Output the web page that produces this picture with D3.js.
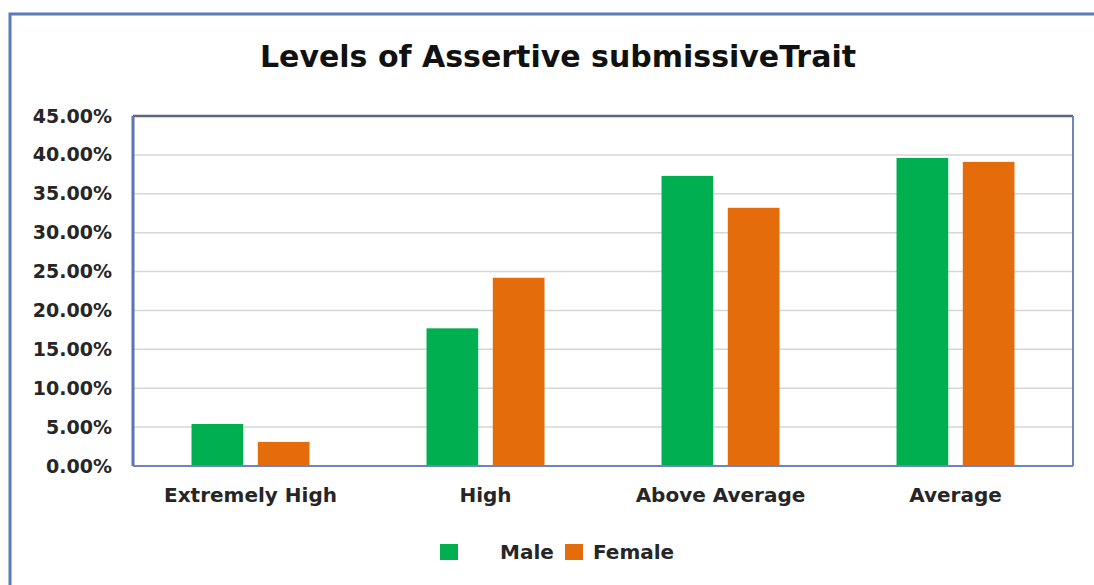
<!DOCTYPE html>
<html>
<head>
<meta charset="utf-8">
<script src="https://cdn.jsdelivr.net/npm/d3@7"></script>
<style>
  html, body { margin: 0; padding: 0; background: #ffffff; }
  svg { display: block; }
  text { font-family: "DejaVu Sans", sans-serif; font-weight: bold; }
</style>
</head>
<body>
<script>
// Chart data
const categories = ["Extremely High", "High", "Above Average", "Average"];
const seriesNames = ["Male", "Female"];
const maleValues = [0.054, 0.177, 0.373, 0.396];
const femaleValues = [0.031, 0.242, 0.332, 0.391];
const yTicks = [0, 0.05, 0.10, 0.15, 0.20, 0.25, 0.30, 0.35, 0.40, 0.45];
const chartTitle = "Levels of Assertive submissiveTrait";

const W = 1094, H = 585;
const colors = { Male: "#00b050", Female: "#e46c0a" };
const plot = { left: 133, right: 1073, top: 116, bottom: 466 };

const svg = d3.select("body").append("svg")
  .attr("width", W).attr("height", H);

// Outer chart frame (continues past the right and bottom edges)
svg.append("rect")
  .attr("x", 10).attr("y", 14)
  .attr("width", W + 40).attr("height", H + 40)
  .attr("fill", "#ffffff")
  .attr("stroke", "#5b7bbd").attr("stroke-width", 3);

// Title
svg.append("text")
  .attr("x", 558).attr("y", 67)
  .attr("text-anchor", "middle")
  .attr("font-size", 30)
  .attr("fill", "#111111")
  .text(chartTitle);

// Scales
const x0 = d3.scaleBand()
  .domain(categories)
  .range([plot.left, plot.right])
  .padding(0);

const groupW = x0.bandwidth() * 0.502;
const x1 = d3.scaleBand()
  .domain(seriesNames)
  .range([(x0.bandwidth() - groupW) / 2, (x0.bandwidth() + groupW) / 2])
  .paddingInner(0.22);

const y = d3.scaleLinear()
  .domain([0, 0.45])
  .range([plot.bottom, plot.top]);

// Horizontal gridlines
svg.append("g")
  .selectAll("line")
  .data(yTicks.slice(1, -1))
  .join("line")
  .attr("x1", plot.left).attr("x2", plot.right)
  .attr("y1", d => y(d)).attr("y2", d => y(d))
  .attr("stroke", "#d6d6d6").attr("stroke-width", 1.5);

// Y axis labels
const yAxis = d3.axisLeft(y)
  .tickValues(yTicks)
  .tickFormat(d3.format(".2%"))
  .tickSize(0)
  .tickPadding(21);

const gy = svg.append("g")
  .attr("transform", `translate(${plot.left},0)`)
  .call(yAxis);
gy.select(".domain").remove();
gy.selectAll("text")
  .attr("font-size", 19)
  .attr("font-family", "DejaVu Sans, sans-serif")
  .attr("font-weight", "bold")
  .attr("fill", "#262626");

// Bars
const rows = categories.map((c, i) => ({
  category: c,
  values: [
    { key: "Male", value: maleValues[i] },
    { key: "Female", value: femaleValues[i] }
  ]
}));

svg.append("g")
  .selectAll("g")
  .data(rows)
  .join("g")
  .attr("transform", d => `translate(${x0(d.category)},0)`)
  .selectAll("rect")
  .data(d => d.values)
  .join("rect")
  .attr("x", d => x1(d.key))
  .attr("width", x1.bandwidth())
  .attr("y", d => y(d.value))
  .attr("height", d => y(0) - y(d.value))
  .attr("fill", d => colors[d.key]);

// Plot area border
const pb = svg.append("g");
pb.append("line")
  .attr("x1", plot.left).attr("x2", plot.right)
  .attr("y1", plot.top).attr("y2", plot.top)
  .attr("stroke", "#58677c").attr("stroke-width", 2.5);
pb.append("line")
  .attr("x1", plot.left).attr("x2", plot.left)
  .attr("y1", plot.top).attr("y2", plot.bottom)
  .attr("stroke", "#5b74b6").attr("stroke-width", 3);
pb.append("line")
  .attr("x1", plot.right).attr("x2", plot.right)
  .attr("y1", plot.top).attr("y2", plot.bottom)
  .attr("stroke", "#6c84c4").attr("stroke-width", 2);
pb.append("line")
  .attr("x1", plot.left).attr("x2", plot.right)
  .attr("y1", plot.bottom).attr("y2", plot.bottom)
  .attr("stroke", "#6c84c4").attr("stroke-width", 2);

// X axis labels
const xAxis = d3.axisBottom(x0).tickSize(0).tickPadding(22);
const gx = svg.append("g")
  .attr("transform", `translate(0,${plot.bottom})`)
  .call(xAxis);
gx.select(".domain").remove();
gx.selectAll("text")
  .attr("font-size", 20)
  .attr("font-family", "DejaVu Sans, sans-serif")
  .attr("font-weight", "bold")
  .attr("fill", "#262626");

// Legend
const legend = svg.append("g").attr("transform", "translate(0,552)");
const legendItems = [
  { key: "Male", sx: 440, tx: 500 },
  { key: "Female", sx: 565, tx: 593 }
];
legendItems.forEach(it => {
  legend.append("rect")
    .attr("x", it.sx).attr("y", -8)
    .attr("width", 18).attr("height", 16)
    .attr("fill", colors[it.key]);
  legend.append("text")
    .attr("x", it.tx).attr("y", 0)
    .attr("dy", "0.36em")
    .attr("font-size", 20)
    .attr("fill", "#262626")
    .text(it.key);
});
</script>
</body>
</html>
